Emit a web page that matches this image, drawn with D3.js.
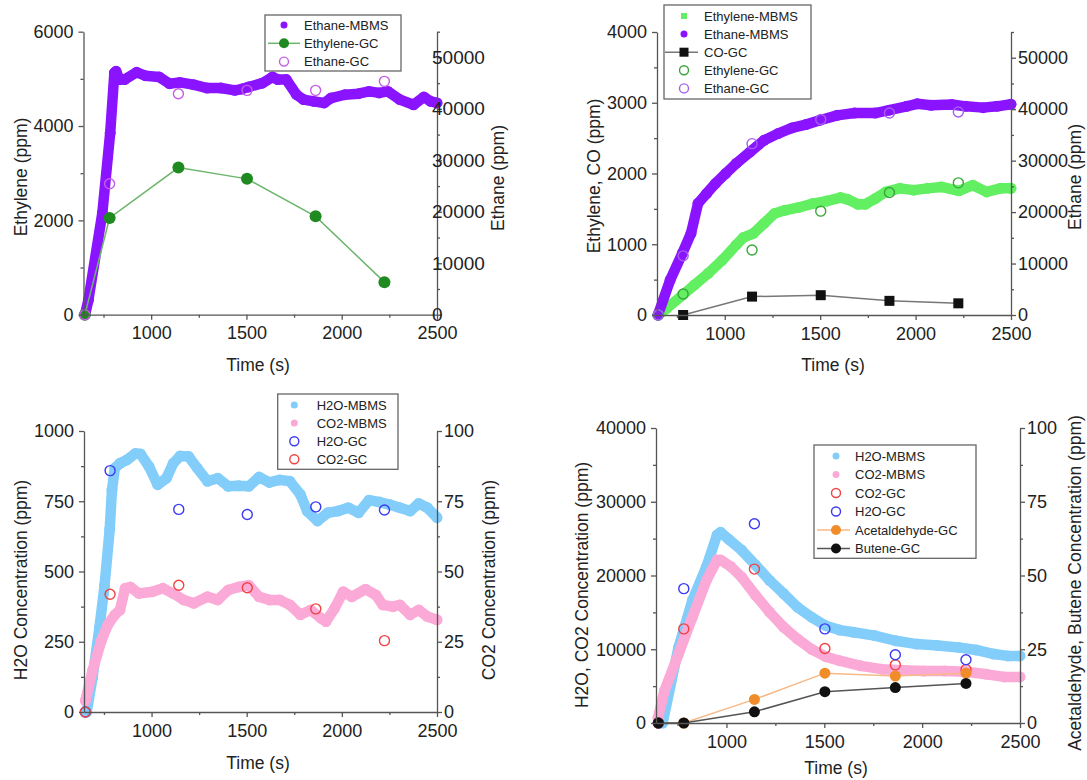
<!DOCTYPE html>
<html>
<head>
<meta charset="utf-8">
<script src="https://cdn.jsdelivr.net/npm/d3@7"></script>
<style>
  body { margin: 0; background: #fff; }
  svg { display: block; }
  text { font-family: "Liberation Sans", Arial, sans-serif; fill: #222; }
</style>
</head>
<body>
<svg id="chart" width="1087" height="780"></svg>
<script>
// ---------- shared sampling times ----------
const gcTime = [652, 782, 1143, 1503, 1863, 2224];
const coGcTime = [782, 1143, 1503, 1863, 2224];
const xMajorTicks = [1000, 1500, 2000, 2500];
const xMinorTicks = [750, 1250, 1750, 2250];

// ---------- panel A: ethane / ethylene ----------
const aEthaneMbms = [[653,0],[671,2900],[744,19800],[785,35300],[807,47000],[816,47300],[834,45700],[861,45700],[924,47100],[969,46450],[1042,46200],[1096,44900],[1150,45150],[1222,44700],[1294,44050],[1366,44050],[1439,43600],[1475,43850],[1511,44250],[1583,45000],[1637,46200],[1664,45700],[1709,45700],[1763,42750],[1800,41800],[1854,41450],[1908,41150],[1944,42100],[2016,42750],[2088,42950],[2143,43400],[2197,43100],[2242,43400],[2305,41800],[2377,40800],[2431,42300],[2467,41450],[2500,41150]];
const aEthyleneGc = [0, 2050, 3120, 2880, 2085, 690];
const aEthaneGc = [0, 25450, 42950, 43600, 43600, 45350];
const aLeftTicks = [0, 2000, 4000, 6000];
const aLeftMinor = [1000, 3000, 5000];
const ethaneTicks = [0, 10000, 20000, 30000, 40000, 50000];
const ethaneMinor = [5000, 15000, 25000, 35000, 45000, 55000];

// ---------- panel B: ethylene, CO / ethane ----------
const bEthyleneMbms = [[650,0],[696,95],[778,280],[841,425],[914,590],[987,775],[1060,990],[1097,1095],[1151,1155],[1206,1295],[1261,1435],[1315,1480],[1388,1520],[1461,1575],[1534,1610],[1607,1660],[1643,1635],[1698,1565],[1735,1565],[1789,1645],[1844,1740],[1917,1790],[1990,1765],[2063,1790],[2135,1810],[2227,1755],[2300,1835],[2372,1740],[2445,1790],[2500,1790]];
const bEthaneMbms = [[650,0],[714,6800],[778,12000],[823,15850],[860,21700],[905,23600],[951,25550],[1005,27500],[1060,29450],[1133,31700],[1206,33950],[1279,35250],[1352,36350],[1425,37000],[1498,37850],[1589,38800],[1680,39250],[1789,39250],[1862,39800],[1953,40550],[2008,41050],[2081,40750],[2190,40900],[2263,40550],[2354,40300],[2427,40550],[2500,40950]];
const bCoGc = [0, 260, 280, 200, 165];
const bEthyleneGc = [0, 296, 918, 1468, 1732, 1868];
const bEthaneGc = [0, 11500, 33300, 38000, 39250, 39450];
const bLeftTicks = [0, 1000, 2000, 3000, 4000];
const bLeftMinor = [500, 1500, 2500, 3500];

// ---------- panel C: H2O / CO2 ----------
const cH2oMbms = [[659,0],[690,123],[726,300],[753,450],[780,650],[792,790],[807,868],[834,885],[870,897],[915,920],[942,918],[987,873],[1032,809],[1078,832],[1114,885],[1150,911],[1195,909],[1240,868],[1294,821],[1348,832],[1403,803],[1457,805],[1511,803],[1565,836],[1619,817],[1673,826],[1727,821],[1782,774],[1818,715],[1872,680],[1926,709],[1980,715],[2034,727],[2088,709],[2143,754],[2197,747],[2251,738],[2305,727],[2359,715],[2404,742],[2449,727],[2500,692]];
const cCo2Mbms = [[652,4],[690,14.7],[735,25.2],[771,31.1],[807,34.6],[834,36.3],[861,44.0],[888,44.5],[933,42.2],[1005,42.8],[1060,44.0],[1114,42.2],[1168,39.9],[1222,38.7],[1294,41.0],[1348,39.9],[1403,43.4],[1457,44.5],[1511,45.1],[1565,41.0],[1619,39.9],[1673,39.9],[1727,38.1],[1782,34.6],[1836,36.3],[1890,33.4],[1917,32.2],[1962,36.9],[2007,42.8],[2052,41.0],[2125,43.7],[2179,41.6],[2215,38.1],[2269,37.5],[2305,38.1],[2359,34.6],[2404,36.3],[2449,34.0],[2500,32.8]];
const cH2oGc = [0, 859, 721, 703, 730, 719];
const cCo2Gc = [0, 41.9, 45.1, 44.2, 36.7, 25.4];
const cLeftTicks = [0, 250, 500, 750, 1000];
const cLeftMinor = [125, 375, 625, 875];
const pctTicks = [0, 25, 50, 75, 100];
const pctMinor = [12.5, 37.5, 62.5, 87.5];

// ---------- panel D: H2O, CO2 / acetaldehyde, butene ----------
const dH2oMbms = [[674,0],[755,10250],[826,16650],[898,21200],[952,25500],[970,25850],[1014,24850],[1077,23450],[1149,21400],[1220,19350],[1292,17550],[1363,15700],[1435,14350],[1507,13200],[1578,12600],[1650,12300],[1757,11850],[1865,11150],[1972,10700],[2079,10500],[2187,10250],[2276,9900],[2366,9350],[2437,9100],[2500,9100]];
const dCo2Mbms = [[650,700],[683,4350],[755,9350],[826,14350],[898,19350],[952,22100],[970,22100],[1023,21200],[1077,19800],[1149,17300],[1220,15050],[1292,13000],[1363,11400],[1435,10000],[1507,9000],[1578,8450],[1686,7750],[1793,7300],[1900,7150],[2008,7050],[2115,7050],[2223,6950],[2330,6600],[2419,6250],[2500,6250]];
const dCo2Gc = [0, 12760, 20870, 10110, 7880, 7240];
const dH2oGc = [0, 18220, 27020, 12760, 9250, 8570];
const dAcetaldehydeGc = [0, 0, 8.0, 16.9, 15.9, 16.9];
const dButeneGc = [0, 0, 3.8, 10.6, 12.0, 13.4];
const dLeftTicks = [0, 10000, 20000, 30000, 40000];
const dLeftMinor = [5000, 15000, 25000, 35000];

// ---------- colours ----------
const C = {
  ethane: "#8a14ff", ethyleneMbms: "#62ef62",
  ethyleneGcFill: "#1f8a1f", ethyleneGcLine: "#6cb56c",
  ethaneGcA: "#c65ce6", ethaneGcB: "#a45ef2", ethyleneGcOpen: "#3aa63a",
  h2oMbms: "#83cdfa", co2Mbms: "#fba9d6", h2oGc: "#3b3bf2", co2Gc: "#f04343",
  acetFill: "#f08c2a", acetLine: "#f6ba88", buteneFill: "#111", buteneLine: "#555",
  coFill: "#111", coLine: "#777", axis: "#555"
};

const svg = d3.select("#chart");
const fmt = d3.format("d");

function styleAxis(sel) {
  sel.select(".domain").attr("stroke", C.axis).attr("stroke-width", 1.3);
  sel.selectAll(".tick line").attr("stroke", C.axis).attr("stroke-width", 1.3);
  sel.selectAll(".tick text").attr("fill", "#222").style("font-size", "18px")
     .style("font-family", '"Liberation Sans", Arial, sans-serif');
}

function addAxis(g, gen, minorGen, tr, labelSize) {
  const a = g.append("g").attr("transform", tr).call(gen);
  styleAxis(a);
  if (labelSize) a.selectAll(".tick text").style("font-size", labelSize + "px");
  const m = g.append("g").attr("transform", tr).call(minorGen);
  m.select(".domain").remove();
  m.selectAll(".tick line").attr("stroke", C.axis).attr("stroke-width", 1.3);
}

function drawPanel(p) {
  const g = svg.append("g");
  const x = d3.scaleLinear().domain(p.xDomain).range([p.L, p.R]);
  const yL = d3.scaleLinear().domain(p.yL.domain).range([p.B, p.T]);
  const yR = d3.scaleLinear().domain(p.yR.domain).range([p.B, p.T]);
  const yOf = a => a === "R" ? yR : yL;

  // data layers
  const plot = g.append("g");
  p.layers.forEach(l => {
    const y = yOf(l.axis);
    if (l.type === "band") {
      const line = d3.line().x(d => x(d[0])).y(d => y(d[1]));
      plot.append("path").datum(l.data).attr("d", line)
        .attr("fill", "none").attr("stroke", l.color).attr("stroke-width", 10.5)
        .attr("stroke-linejoin", "round").attr("stroke-linecap", "round");
      plot.append("g").selectAll("circle").data(l.data).join("circle")
        .attr("cx", d => x(d[0])).attr("cy", d => y(d[1])).attr("r", 5.5)
        .attr("fill", l.color);
    } else if (l.type === "open") {
      plot.append("g").selectAll("circle").data(l.v.map((v, i) => [l.t[i], v])).join("circle")
        .attr("cx", d => x(d[0])).attr("cy", d => y(d[1])).attr("r", 5)
        .attr("fill", "none").attr("stroke", l.color).attr("stroke-width", 1.4);
    } else if (l.type === "lineDot") {
      const pts = l.v.map((v, i) => [l.t[i], v]);
      plot.append("path").datum(pts)
        .attr("d", d3.line().x(d => x(d[0])).y(d => y(d[1])))
        .attr("fill", "none").attr("stroke", l.line).attr("stroke-width", 1.5);
      if (l.shape === "square") {
        plot.append("g").selectAll("rect").data(pts).join("rect")
          .attr("x", d => x(d[0]) - 5).attr("y", d => y(d[1]) - 5)
          .attr("width", 10).attr("height", 10).attr("fill", l.fill);
      } else {
        plot.append("g").selectAll("circle").data(pts).join("circle")
          .attr("cx", d => x(d[0])).attr("cy", d => y(d[1])).attr("r", l.r || 6)
          .attr("fill", l.fill);
      }
    }
  });

  // axes
  addAxis(g,
    d3.axisBottom(x).tickValues(xMajorTicks).tickSize(5).tickSizeOuter(0).tickPadding(7).tickFormat(fmt),
    d3.axisBottom(x).tickValues(xMinorTicks).tickSize(3).tickSizeOuter(0).tickFormat(""),
    `translate(0,${p.B})`);
  addAxis(g,
    d3.axisLeft(yL).tickValues(p.yL.ticks).tickSize(5).tickSizeOuter(0).tickPadding(5).tickFormat(fmt),
    d3.axisLeft(yL).tickValues(p.yL.minor).tickSize(3).tickSizeOuter(0).tickFormat(""),
    `translate(${p.L},0)`);
  addAxis(g,
    d3.axisRight(yR).tickValues(p.yR.ticks).tickSize(5).tickSizeOuter(0).tickPadding(p.yR.pad).tickFormat(fmt),
    d3.axisRight(yR).tickValues(p.yR.minor).tickSize(3).tickSizeOuter(0).tickFormat(""),
    `translate(${p.R},0)`, p.yR.labelSize);

  // axis titles
  const t = g.append("g").style("font-size", "17.5px");
  t.append("text").attr("x", p.xTitle[0]).attr("y", p.xTitle[1])
    .attr("text-anchor", "middle").text("Time (s)");
  t.append("text").attr("transform", `translate(${p.yLTitle[0]},${p.yLTitle[1]}) rotate(-90)`)
    .attr("text-anchor", "middle").text(p.yLTitle[2]);
  t.append("text").attr("transform", `translate(${p.yRTitle[0]},${p.yRTitle[1]}) rotate(-90)`)
    .attr("text-anchor", "middle").text(p.yRTitle[2]);

  // legend
  const lg = p.legend;
  const leg = g.append("g");
  leg.append("rect").attr("x", lg.box[0]).attr("y", lg.box[1])
    .attr("width", lg.box[2] - lg.box[0]).attr("height", lg.box[3] - lg.box[1])
    .attr("fill", "#fff").attr("stroke", "#666").attr("stroke-width", 1.3);
  lg.items.forEach((it, i) => {
    const cy = lg.y0 + i * lg.dy;
    const mx = lg.mx;
    if (it.kind === "lineDot" || it.kind === "lineSquare") {
      leg.append("line").attr("x1", lg.lx[0]).attr("x2", lg.lx[1]).attr("y1", cy).attr("y2", cy)
        .attr("stroke", it.line).attr("stroke-width", 1.5);
    }
    if (it.kind === "dot") {
      leg.append("circle").attr("cx", mx).attr("cy", cy).attr("r", 3.5).attr("fill", it.color);
    } else if (it.kind === "square") {
      leg.append("rect").attr("x", mx - 3).attr("y", cy - 3).attr("width", 6).attr("height", 6).attr("fill", it.color);
    } else if (it.kind === "open") {
      leg.append("circle").attr("cx", mx).attr("cy", cy).attr("r", 4.5)
        .attr("fill", "none").attr("stroke", it.color).attr("stroke-width", 1.4);
    } else if (it.kind === "lineDot") {
      leg.append("circle").attr("cx", mx).attr("cy", cy).attr("r", 5).attr("fill", it.color);
    } else if (it.kind === "lineSquare") {
      leg.append("rect").attr("x", mx - 4.5).attr("y", cy - 4.5).attr("width", 9).attr("height", 9).attr("fill", it.color);
    }
    leg.append("text").attr("x", lg.tx).attr("y", cy).attr("dy", "0.35em")
      .style("font-size", "13px").text(it.label);
  });
}

// ---------- panel A ----------
drawPanel({
  L: 83.5, R: 437, T: 31.7, B: 314.7, xDomain: [645, 2500],
  yL: { domain: [0, 6000], ticks: aLeftTicks, minor: aLeftMinor },
  yR: { domain: [0, 55000], ticks: ethaneTicks, minor: ethaneMinor, pad: -10, labelSize: 19 },
  xTitle: [258, 371], yLTitle: [27, 177, "Ethylene (ppm)"], yRTitle: [504, 178, "Ethane (ppm)"],
  layers: [
    { type: "band", data: aEthaneMbms, axis: "R", color: C.ethane },
    { type: "lineDot", t: gcTime, v: aEthyleneGc, axis: "L", line: C.ethyleneGcLine, fill: C.ethyleneGcFill, r: 6 },
    { type: "open", t: gcTime, v: aEthaneGc, axis: "R", color: C.ethaneGcA }
  ],
  legend: {
    box: [265, 15, 401, 71], y0: 25, dy: 18.3, mx: 284, tx: 304, lx: [268, 300],
    items: [
      { label: "Ethane-MBMS", kind: "dot", color: C.ethane },
      { label: "Ethylene-GC", kind: "lineDot", color: C.ethyleneGcFill, line: C.ethyleneGcLine },
      { label: "Ethane-GC", kind: "open", color: C.ethaneGcA }
    ]
  }
});

// ---------- panel B ----------
drawPanel({
  L: 657, R: 1011, T: 32, B: 315, xDomain: [645, 2500],
  yL: { domain: [0, 4000], ticks: bLeftTicks, minor: bLeftMinor },
  yR: { domain: [0, 55000], ticks: ethaneTicks, minor: ethaneMinor, pad: 2 },
  xTitle: [833, 371], yLTitle: [600, 176, "Ethylene,  CO (ppm)"], yRTitle: [1081, 177, "Ethane (ppm)"],
  layers: [
    { type: "band", data: bEthyleneMbms, axis: "L", color: C.ethyleneMbms },
    { type: "band", data: bEthaneMbms, axis: "R", color: C.ethane },
    { type: "lineDot", t: coGcTime, v: bCoGc, axis: "L", line: C.coLine, fill: C.coFill, shape: "square" },
    { type: "open", t: gcTime, v: bEthyleneGc, axis: "L", color: C.ethyleneGcOpen },
    { type: "open", t: gcTime, v: bEthaneGc, axis: "R", color: C.ethaneGcB }
  ],
  legend: {
    box: [664, 5, 811, 99], y0: 16, dy: 18.1, mx: 684, tx: 704, lx: [665, 698],
    items: [
      { label: "Ethylene-MBMS", kind: "square", color: C.ethyleneMbms },
      { label: "Ethane-MBMS", kind: "dot", color: C.ethane },
      { label: "CO-GC", kind: "lineSquare", color: C.coFill, line: C.coLine },
      { label: "Ethylene-GC", kind: "open", color: C.ethyleneGcOpen },
      { label: "Ethane-GC", kind: "open", color: C.ethaneGcB }
    ]
  }
});

// ---------- panel C ----------
drawPanel({
  L: 84, R: 437, T: 431, B: 712, xDomain: [645, 2500],
  yL: { domain: [0, 1000], ticks: cLeftTicks, minor: cLeftMinor },
  yR: { domain: [0, 100], ticks: pctTicks, minor: pctMinor, pad: 2 },
  xTitle: [258, 769], yLTitle: [27, 580, "H2O Concentration (ppm)"], yRTitle: [495, 580, "CO2 Concentration (ppm)"],
  layers: [
    { type: "band", data: cH2oMbms, axis: "L", color: C.h2oMbms },
    { type: "band", data: cCo2Mbms, axis: "R", color: C.co2Mbms },
    { type: "open", t: gcTime, v: cH2oGc, axis: "L", color: C.h2oGc },
    { type: "open", t: gcTime, v: cCo2Gc, axis: "R", color: C.co2Gc }
  ],
  legend: {
    box: [277.7, 394, 398, 469.3], y0: 405, dy: 18.1, mx: 294.3, tx: 316.7, lx: [280, 308],
    items: [
      { label: "H2O-MBMS", kind: "dot", color: C.h2oMbms },
      { label: "CO2-MBMS", kind: "dot", color: C.co2Mbms },
      { label: "H2O-GC", kind: "open", color: C.h2oGc },
      { label: "CO2-GC", kind: "open", color: C.co2Gc }
    ]
  }
});

// ---------- panel D ----------
drawPanel({
  L: 656, R: 1020, T: 428, B: 723, xDomain: [640, 2500],
  yL: { domain: [0, 40000], ticks: dLeftTicks, minor: dLeftMinor },
  yR: { domain: [0, 100], ticks: pctTicks, minor: pctMinor, pad: 2 },
  xTitle: [836, 774], yLTitle: [588, 585, "H2O, CO2 Concentration (ppm)"], yRTitle: [1081, 583, "Acetaldehyde, Butene Concentration (ppm)"],
  layers: [
    { type: "band", data: dH2oMbms, axis: "L", color: C.h2oMbms },
    { type: "band", data: dCo2Mbms, axis: "L", color: C.co2Mbms },
    { type: "open", t: gcTime, v: dCo2Gc, axis: "L", color: C.co2Gc },
    { type: "open", t: gcTime, v: dH2oGc, axis: "L", color: C.h2oGc },
    { type: "lineDot", t: gcTime, v: dAcetaldehydeGc, axis: "R", line: C.acetLine, fill: C.acetFill, r: 5.5 },
    { type: "lineDot", t: gcTime, v: dButeneGc, axis: "R", line: C.buteneLine, fill: C.buteneFill, r: 5.5 }
  ],
  legend: {
    box: [814, 445, 976, 558.3], y0: 456, dy: 18.5, mx: 836, tx: 855, lx: [817, 850],
    items: [
      { label: "H2O-MBMS", kind: "dot", color: C.h2oMbms },
      { label: "CO2-MBMS", kind: "dot", color: C.co2Mbms },
      { label: "CO2-GC", kind: "open", color: C.co2Gc },
      { label: "H2O-GC", kind: "open", color: C.h2oGc },
      { label: "Acetaldehyde-GC", kind: "lineDot", color: C.acetFill, line: C.acetLine },
      { label: "Butene-GC", kind: "lineDot", color: C.buteneFill, line: C.buteneLine }
    ]
  }
});
</script>
</body>
</html>
